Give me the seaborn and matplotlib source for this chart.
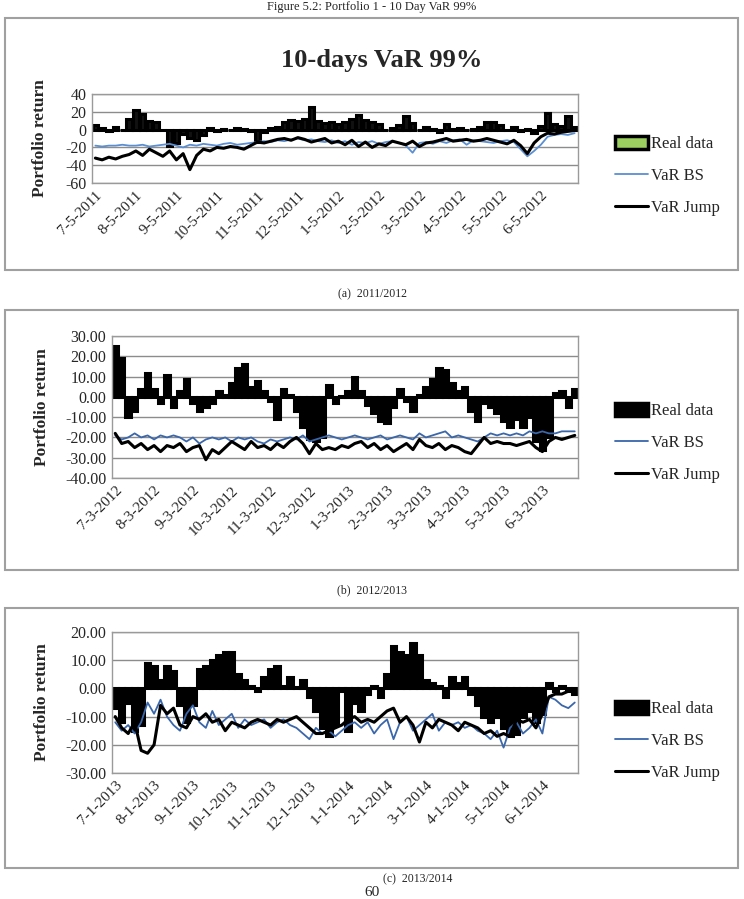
import numpy as np
import matplotlib
matplotlib.use("Agg")
import matplotlib.pyplot as plt
from matplotlib.patches import Rectangle, Patch
from matplotlib.lines import Line2D
import seaborn as sns

# ---- data (about six readings per month) ----
months_a = ["7-5-2011", "8-5-2011", "9-5-2011", "10-5-2011", "11-5-2011", "12-5-2011",
            "1-5-2012", "2-5-2012", "3-5-2012", "4-5-2012", "5-5-2012", "6-5-2012"]
months_b = ["7-3-2012", "8-3-2012", "9-3-2012", "10-3-2012", "11-3-2012", "12-3-2012",
            "1-3-2013", "2-3-2013", "3-3-2013", "4-3-2013", "5-3-2013", "6-3-2013"]
months_c = ["7-1-2013", "8-1-2013", "9-1-2013", "10-1-2013", "11-1-2013", "12-1-2013",
            "1-1-2014", "2-1-2014", "3-1-2014", "4-1-2014", "5-1-2014", "6-1-2014"]

real_a = [5, 2, -2, 3, -1, 12, 22, 18, 10, 8, 0, -18, -15, -5, -10, -12, -6, 2, -2, 1,
          -1, 2, 1, -2, -14, -3, 2, 3, 8, 11, 10, 12, 25, 10, 7, 8, 6, 9, 12, 16,
          11, 9, 6, 0, 2, 5, 15, 7, -1, 3, 1, -3, 6, 0.5, 2, -1, 1, 3, 8, 9,
          5, -1, 3, -2, 1, -4, 4, 19, 6, 4, 15, 3]
bs_a = [-18, -19, -18, -18, -17, -18, -18, -17, -19, -18, -17, -16, -18, -20, -17, -18, -16, -17, -18, -16,
        -15, -17, -16, -15, -14, -13, -14, -12, -13, -11, -10, -12, -11, -13, -14, -12, -15, -13, -17, -14,
        -15, -13, -16, -14, -13, -15, -18, -26, -15, -14, -16, -13, -15, -12, -11, -17, -12, -13, -14, -15,
        -13, -12, -14, -22, -30, -24, -17, -8, -6, -5, -6, -4]
jump_a = [-32, -34, -31, -33, -30, -28, -24, -29, -22, -26, -30, -24, -34, -27, -45, -29, -22, -24, -20, -21,
          -19, -20, -22, -18, -14, -15, -13, -11, -10, -12, -9, -11, -14, -12, -10, -15, -13, -17, -12, -19,
          -14, -20, -16, -18, -13, -15, -17, -13, -19, -15, -14, -12, -10, -13, -12, -11, -13, -12, -10, -12,
          -14, -16, -12, -18, -27, -15, -8, -4, -5, -3, -2, -1]

real_b = [25, 19, -10, -7, 4, 12, 4, -3, 11, -5, 3, 9, -3, -7, -5, -3, 3, 1, 7, 14,
          16, 5, 8, 3, -2, -11, 4, 1, -7, -15, -21, -22, -20, 6, -3, 0.5, 3, 10, 3, -4,
          -8, -12, -13, -5, 4, -2, -7, 1, 5, 9, 14, 13, 7, 3, 5, -7, -12, -3, -5, -8,
          -12, -15, -11, -15, -10, -22, -26, -20, 2, 3, -5, 4]
bs_b = [-19, -21, -20, -18, -20, -19, -21, -19, -20, -19, -20, -22, -20, -23, -21, -20, -21, -20, -22, -20,
        -21, -20, -22, -23, -21, -22, -21, -20, -21, -19, -22, -21, -20, -19, -20, -21, -20, -19, -20, -21,
        -20, -19, -21, -20, -19, -20, -21, -18, -20, -19, -18, -17, -20, -19, -20, -21, -22, -20, -18, -19,
        -18, -19, -18, -19, -17, -18, -17, -18, -18, -17, -17, -17]
jump_b = [-18, -23, -22, -25, -23, -26, -24, -27, -24, -25, -23, -27, -25, -24, -31, -26, -28, -25, -22, -24,
          -26, -22, -25, -24, -26, -23, -25, -22, -20, -23, -28, -23, -26, -25, -26, -24, -25, -23, -22, -25,
          -23, -26, -24, -27, -25, -23, -26, -21, -24, -25, -23, -26, -24, -25, -27, -28, -24, -20, -23, -22,
          -23, -23, -24, -23, -22, -25, -27, -22, -20, -21, -20, -19]

real_c = [-7, -12, -5, -15, -13, 9, 8, 3, 8, 6, -6, -12, -6, 7, 8, 10, 12, 13, 13, 5,
          3, 1, -1, 4, 7, 8, 1, 4, 0.5, 3, -3, -8, -14, -17, -13, -1, -15, -5, -8, -2,
          1, -3, 5, 15, 13, 12, 16, 12, 3, 2, 1, -3, 4, 2, 4, -2, -6, -10, -12, -10,
          -14, -17, -16, -10, -8, -12, -9, 2, -1, 1, -1, -2]
bs_c = [-12, -15, -13, -16, -12, -5, -9, -4, -10, -13, -15, -9, -6, -12, -14, -8, -13, -11, -9, -14,
        -11, -13, -12, -11, -14, -12, -11, -13, -14, -16, -18, -14, -16, -15, -17, -15, -13, -12, -14, -12,
        -16, -13, -11, -18, -12, -10, -15, -13, -11, -9, -15, -12, -13, -12, -14, -13, -15, -16, -18, -15,
        -21, -14, -12, -16, -14, -11, -16, -3, -4, -6, -7, -5]
jump_c = [-10, -14, -16, -12, -22, -23, -20, -6, -9, -7, -13, -14, -10, -11, -9, -12, -11, -15, -12, -13,
          -14, -12, -11, -12, -13, -11, -12, -11, -10, -12, -14, -16, -16, -15, -14, -13, -11, -10, -12, -11,
          -12, -10, -8, -7, -12, -10, -13, -19, -12, -14, -11, -12, -13, -15, -12, -13, -14, -16, -15, -17,
          -16, -17, -11, -12, -11, -14, -9, -3, -2, -2, -1, -1]

sns.set_style("white")
plt.rcParams["font.family"] = ["Liberation Serif", "DejaVu Serif"]

W, H = 744, 899
fig = plt.figure(figsize=(W / 100, H / 100), dpi=100)


def fx(px):
    return px / W


def fy(py):
    return 1 - py / H


def panel(rect, real, bs, jump, months, ylim, step, fmt, bar_face, key_face,
          bs_color, ylab_x, leg_top, caption, cap_x, cap_y):
    n = len(real)
    x = np.arange(n)
    ax = fig.add_axes(rect)
    sns.barplot(x=x, y=real, native_scale=True, color=bar_face, width=0.85,
                edgecolor="black", linewidth=2.2, saturation=1, ax=ax)
    sns.lineplot(x=x, y=bs, color=bs_color, linewidth=1.3, ax=ax)
    sns.lineplot(x=x, y=jump, color="black", linewidth=2.2, ax=ax)
    ax.set_xlim(-0.5, n - 0.5)
    ax.set_ylim(*ylim)
    yt = np.arange(ylim[0], ylim[1] + 0.1, step)
    ax.set_yticks(yt)
    ax.set_yticklabels([fmt.format(v) for v in yt], fontsize=11.5)
    ax.yaxis.grid(True, color="#8c8c8c", linewidth=1)
    ax.set_axisbelow(True)
    ax.set_xticks(np.arange(0, n, n // 12))
    ax.set_xticklabels(months, rotation=45, ha="right", rotation_mode="anchor",
                       fontsize=11)
    ax.tick_params(length=0, pad=4)
    ax.set_xlabel("")
    ax.set_ylabel("")
    for s in ax.spines.values():
        s.set_color("#9a9a9a")
        s.set_linewidth(1)
    cy = rect[1] + rect[3] / 2
    fig.text(ylab_x, cy, "Portfolio return", rotation=90, ha="center",
             va="center", fontsize=12.5, fontweight="bold")
    handles = [Patch(facecolor=key_face, edgecolor="black", linewidth=2.5),
               Line2D([], [], color=bs_color, linewidth=1.3),
               Line2D([], [], color="black", linewidth=2.2)]
    ax.legend(handles, ["Real data", "VaR BS", "VaR Jump"], loc="upper left",
              bbox_to_anchor=(fx(600), fy(leg_top)), bbox_transform=fig.transFigure,
              frameon=False, fontsize=12, handlelength=2.0, handleheight=0.8,
              handletextpad=0.15, labelspacing=0.95)
    fig.text(fx(cap_x), fy(cap_y), caption, ha="center", va="center", fontsize=8.5)
    return ax


# outer boxes of the three charts
for top, bot in [(18, 270), (310, 570), (608, 868)]:
    fig.add_artist(Rectangle((fx(5), fy(bot)), fx(733), (bot - top) / H,
                             transform=fig.transFigure, fill=False,
                             edgecolor="#a0a0a0", linewidth=1.5))

fig.text(0.5, 0.999, "Figure 5.2: Portfolio 1 - 10 Day VaR 99%", ha="center",
         va="top", fontsize=9)

ax_a = panel([fx(92), fy(183), fx(486), 89 / H], real_a, bs_a, jump_a, months_a,
             (-60, 40), 20, "{:.0f}", "#111111", "#9bcf5f", "#5b8fd2",
             fx(40), 121, "(a)  2011/2012", 372, 294)
fig.text(fx(382), fy(60), "10-days VaR 99%", ha="center", va="center",
         fontsize=19, fontweight="bold")

ax_b = panel([fx(112), fy(478), fx(466), 142 / H], real_b, bs_b, jump_b, months_b,
             (-40, 30), 10, "{:.2f}", "black", "black", "#3a66aa",
             fx(42), 388, "(b)  2012/2013", 372, 590)

ax_c = panel([fx(112), fy(773), fx(466), 141 / H], real_c, bs_c, jump_c, months_c,
             (-30, 20), 10, "{:.2f}", "black", "black", "#3a66aa",
             fx(42), 686, "(c)  2013/2014", 418, 879)

fig.text(fx(372), fy(892), "60", ha="center", va="center", fontsize=11)

fig.savefig("out.png", dpi=100)
